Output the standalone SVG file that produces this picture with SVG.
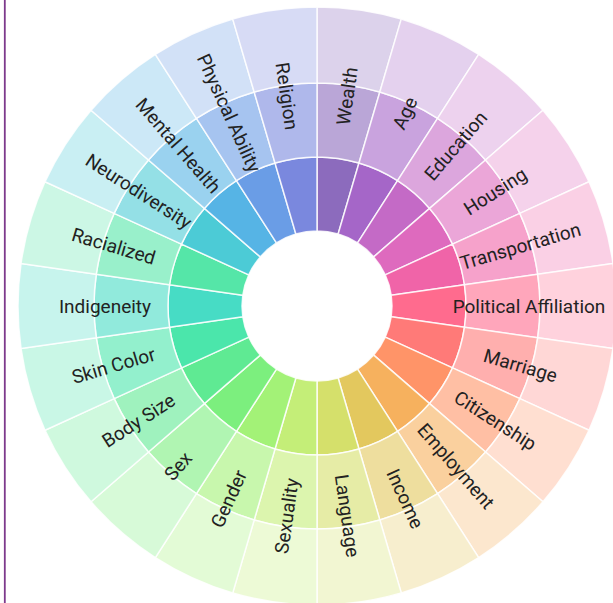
<svg xmlns="http://www.w3.org/2000/svg" width="613" height="603" viewBox="0 0 613 603">
<style>
.lbl{font-family:Roboto,"Liberation Sans",sans-serif;font-size:19px;fill:#222;text-anchor:middle;dominant-baseline:central}
.in{fill-opacity:1}
.mid{fill-opacity:.6}
.out{fill-opacity:.3}
.ring{stroke:#fff;stroke-width:1.5;stroke-opacity:.85;stroke-linejoin:round}
</style>
<defs>
<path id="w0" class="ring" d="M0,-149 A149,149 0 0 1 41.978,-142.964 L21.130,-71.962 A75,75 0 0 0 0,-75 Z"/>
<path id="w1" class="ring" d="M0,-223 A223,223 0 0 1 62.826,-213.967 L41.978,-142.964 A149,149 0 0 0 0,-149 Z"/>
<path id="w2" class="ring" d="M0,-299 A299,299 0 0 1 84.238,-286.888 L62.826,-213.967 A223,223 0 0 0 0,-223 Z"/>
<g id="seg"><use href="#w0" class="in"/><use href="#w1" class="mid"/><use href="#w2" class="out"/></g>
</defs>
<rect width="613" height="603" fill="#fff"/>
<line x1="4.8" y1="0" x2="4.8" y2="603" stroke="#7d3a8c" stroke-width="1.8"/>
<g transform="translate(317,306)">
<g id="wealth" fill="#8c6bbd"><use href="#seg" transform="rotate(0)"/><text class="lbl" transform="rotate(-81.818)" x="212" y="0">Wealth</text></g>
<g id="age" fill="#a566c8"><use href="#seg" transform="rotate(16.3636)"/><text class="lbl" transform="rotate(-65.455)" x="212" y="0">Age</text></g>
<g id="education" fill="#c46ac6"><use href="#seg" transform="rotate(32.7273)"/><text class="lbl" transform="rotate(-49.091)" x="212" y="0">Education</text></g>
<g id="housing" fill="#de6abe"><use href="#seg" transform="rotate(49.0909)"/><text class="lbl" transform="rotate(-32.727)" x="212" y="0">Housing</text></g>
<g id="transportation" fill="#f064a8"><use href="#seg" transform="rotate(65.4545)"/><text class="lbl" transform="rotate(-16.364)" x="212" y="0">Transportation</text></g>
<g id="political-affiliation" fill="#ff6b8e"><use href="#seg" transform="rotate(81.8182)"/><text class="lbl" transform="rotate(0)" x="212" y="0">Political Affiliation</text></g>
<g id="marriage" fill="#ff7a78"><use href="#seg" transform="rotate(98.1818)"/><text class="lbl" transform="rotate(16.364)" x="212" y="0">Marriage</text></g>
<g id="citizenship" fill="#ff9468"><use href="#seg" transform="rotate(114.5455)"/><text class="lbl" transform="rotate(32.727)" x="212" y="0">Citizenship</text></g>
<g id="employment" fill="#f6b15e"><use href="#seg" transform="rotate(130.9091)"/><text class="lbl" transform="rotate(49.091)" x="212" y="0">Employment</text></g>
<g id="income" fill="#e3c85e"><use href="#seg" transform="rotate(147.2727)"/><text class="lbl" transform="rotate(65.455)" x="212" y="0">Income</text></g>
<g id="language" fill="#d5e06b"><use href="#seg" transform="rotate(163.6364)"/><text class="lbl" transform="rotate(81.818)" x="212" y="0">Language</text></g>
<g id="sexuality" fill="#c4ee78"><use href="#seg" transform="rotate(180)"/><text class="lbl" transform="rotate(-81.818)" x="-212" y="0">Sexuality</text></g>
<g id="gender" fill="#a3f277"><use href="#seg" transform="rotate(196.3636)"/><text class="lbl" transform="rotate(-65.455)" x="-212" y="0">Gender</text></g>
<g id="sex" fill="#7cef7e"><use href="#seg" transform="rotate(212.7273)"/><text class="lbl" transform="rotate(-49.091)" x="-212" y="0">Sex</text></g>
<g id="body-size" fill="#5fea93"><use href="#seg" transform="rotate(229.0909)"/><text class="lbl" transform="rotate(-32.727)" x="-212" y="0">Body Size</text></g>
<g id="skin-color" fill="#4be6ab"><use href="#seg" transform="rotate(245.4545)"/><text class="lbl" transform="rotate(-16.364)" x="-212" y="0">Skin Color</text></g>
<g id="indigeneity" fill="#47dcc5"><use href="#seg" transform="rotate(261.8182)"/><text class="lbl" transform="rotate(0)" x="-212" y="0">Indigeneity</text></g>
<g id="racialized" fill="#55e6a8"><use href="#seg" transform="rotate(278.1818)"/><text class="lbl" transform="rotate(16.364)" x="-212" y="0">Racialized</text></g>
<g id="neurodiversity" fill="#4ccbd6"><use href="#seg" transform="rotate(294.5455)"/><text class="lbl" transform="rotate(32.727)" x="-212" y="0">Neurodiversity</text></g>
<g id="mental-health" fill="#56b4e5"><use href="#seg" transform="rotate(310.9091)"/><text class="lbl" transform="rotate(49.091)" x="-212" y="0">Mental Health</text></g>
<g id="physical-ability" fill="#6a9de6"><use href="#seg" transform="rotate(327.2727)"/><text class="lbl" transform="rotate(65.455)" x="-212" y="0">Physical Ability</text></g>
<g id="religion" fill="#7a88de"><use href="#seg" transform="rotate(343.6364)"/><text class="lbl" transform="rotate(81.818)" x="-212" y="0">Religion</text></g>
</g>
</svg>
